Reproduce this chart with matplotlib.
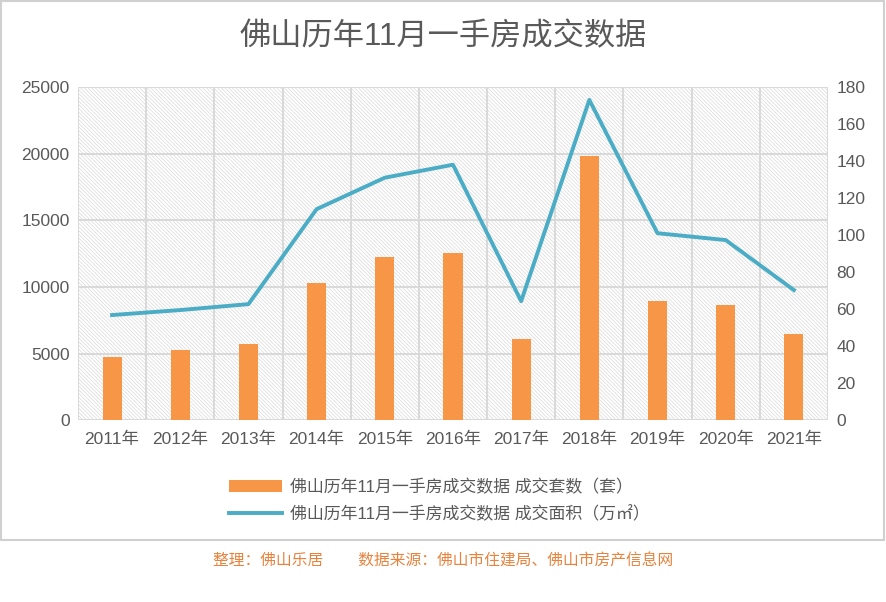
import matplotlib
matplotlib.use("Agg")
import matplotlib.pyplot as plt
from matplotlib.patches import Rectangle
import numpy as np

plt.rcParams['font.family'] = ['Liberation Sans', 'Noto Sans CJK SC', 'DejaVu Sans']
plt.rcParams['hatch.linewidth'] = 0.45

years = ['2011年', '2012年', '2013年', '2014年', '2015年', '2016年',
         '2017年', '2018年', '2019年', '2020年', '2021年']
units = [4730, 5250, 5700, 10290, 12240, 12540, 6080, 19820, 8930, 8630, 6460]
area = [56.8, 59.5, 62.7, 114, 131, 138, 64.3, 173, 101, 97.3, 70.3]
left_ticks = [0, 5000, 10000, 15000, 20000, 25000]
right_ticks = [0, 20, 40, 60, 80, 100, 120, 140, 160, 180]

title = '佛山历年11月一手房成交数据'
label_units = '佛山历年11月一手房成交数据 成交套数（套）'
label_area = '佛山历年11月一手房成交数据 成交面积（万㎡）'
footer = '整理：佛山乐居        数据来源：佛山市住建局、佛山市房产信息网'

bar_color = '#F79646'
line_color = '#4BACC6'
text_color = '#595959'
grid_color = '#D9D9D9'

fig = plt.figure(figsize=(8.86, 6.02), dpi=100)
ax = fig.add_axes([0.088, 0.302, 0.8465, 0.5535])
ax2 = ax.twinx()

x = np.arange(len(years))
ax.set_xlim(-0.5, len(years) - 0.5)
ax.set_ylim(0, 25000)
ax2.set_ylim(0, 180)

# hatched background
ax.add_patch(Rectangle((-0.5, 0), len(years), 25000, facecolor='white',
                       edgecolor='#D6D6D6', hatch='\\' * 9, lw=0, zorder=0))

for v in left_ticks:
    ax.axhline(v, color=grid_color, lw=1.4, zorder=1)
for b in np.arange(-0.5, len(years), 1.0):
    ax.axvline(b, color=grid_color, lw=1.4, zorder=1)

ax.bar(x, units, width=0.28, color=bar_color, zorder=3, label=label_units)
ax2.plot(x, area, color=line_color, lw=2.8, zorder=4, label=label_area)

ax.set_yticks(left_ticks)
ax2.set_yticks(right_ticks)
ax.set_xticks(x)
ax.set_xticklabels(years)
for a in (ax, ax2):
    for s in a.spines.values():
        s.set_visible(False)
    a.tick_params(length=0, labelsize=12.5, colors=text_color)
ax.tick_params(axis='x', pad=8)
ax.tick_params(axis='y', pad=6)
ax2.tick_params(axis='y', pad=6)

h1, l1 = ax.get_legend_handles_labels()
h2, l2 = ax2.get_legend_handles_labels()
leg = fig.legend(h1 + h2, l1 + l2, loc='center', bbox_to_anchor=(0.496, 0.169),
                 frameon=False, fontsize=12.2, labelcolor=text_color,
                 handlelength=3.1, handletextpad=0.5, labelspacing=0.6)

fig.text(0.5, 0.938, title, ha='center', va='center', fontsize=22.5,
         color=text_color, fontweight='medium')
fig.text(0.5, 0.068, footer, ha='center', va='center', fontsize=11.3,
         color='#E8823C')

# outer frame
fig.add_artist(Rectangle((0.001, 1 - 540 / 602), 0.997, 540 / 602 - 0.002,
                         transform=fig.transFigure, fill=False,
                         edgecolor='#D0D0D0', lw=1.5))

fig.savefig('out.png', dpi=100)
